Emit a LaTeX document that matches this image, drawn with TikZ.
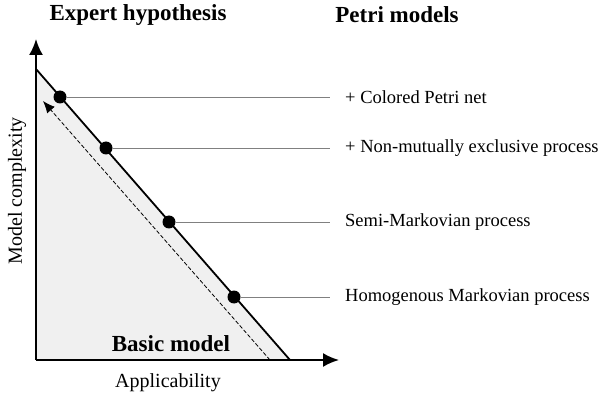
\documentclass[tikz,border=0pt]{standalone}
\usepackage{fontspec}
\setmainfont{Liberation Serif}
\usetikzlibrary{arrows.meta}
\begin{document}
\begin{tikzpicture}[x=1pt,y=-1pt,
  dot/.style={circle,fill=black,inner sep=0pt,minimum size=13pt},
  lbl/.style={anchor=west,inner xsep=15pt,font=\fontsize{18.5}{21}\selectfont},
  head/.style={font=\fontsize{23}{26}\selectfont\bfseries},
  axis/.style={line width=2pt,-{Latex[length=16pt,width=14pt]}}]
\useasboundingbox (0,0) rectangle (608,398);
% triangle
\fill[black!6] (36,69)--(36,360)--(290,360)--cycle;
\draw[line width=1.8pt] (36,69)--(290,360);
\coordinate (origin) at (36,360);
\coordinate (ytip) at (36,39);
\coordinate (xtip) at (339,360);
\draw[axis] (origin)--(ytip);
\draw[axis] (origin)--(xtip);
\coordinate (dtail) at (270,360);
\coordinate (dhead) at (43,101);
\draw[dash pattern=on 4pt off 2pt,-{Latex[length=12pt,width=10pt]},line width=0.8pt] (dtail)--(dhead);
% dots and labels
\node[dot] (d1) at (60,97) {};
\node[dot] (d2) at (106,148) {};
\node[dot] (d3) at (169,222) {};
\node[dot] (d4) at (234,297) {};
\node[lbl] (l1) at (330,97) {+ Colored Petri net};
\node[lbl] (l2) at (330,148) {+ Non-mutually exclusive process};
\node[lbl] (l3) at (330,222) {Semi-Markovian process};
\node[lbl] (l4) at (330,297) {Homogenous Markovian process};
\foreach \i in {1,...,4}
  \draw[gray,thin] (d\i)--(l\i.west);
\node[font=\fontsize{23}{26}\selectfont\bfseries] (basic) at (171,344) {Basic model};
\node[font=\fontsize{20}{23}\selectfont,rotate=90] (ylab) at (17,191) {Model complexity};
\node[font=\fontsize{20}{23}\selectfont] (xlab) at (168,383) {Applicability};
\node[head] (t1) at (138,15) {Expert hypothesis};
\node[head] (t2) at (397,15) {Petri models};
\end{tikzpicture}
\end{document}
